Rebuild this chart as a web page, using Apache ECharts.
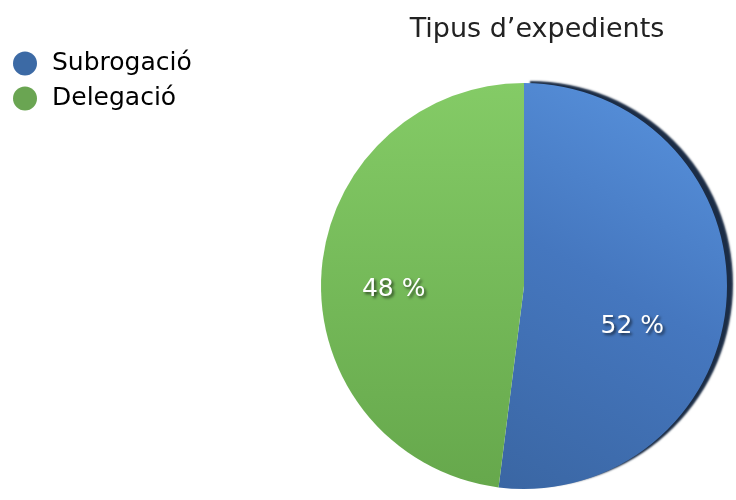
<!DOCTYPE html>
<html>
<head>
<meta charset="utf-8">
<script src="https://cdn.jsdelivr.net/npm/echarts@6/dist/echarts.min.js"></script>
<style>
  html, body { margin: 0; padding: 0; background: #fff; }
  #chart { width: 736px; height: 500px; }
</style>
</head>
<body>
<div id="chart"></div>
<script>
// dades
var categories = ['Subrogació', 'Delegació']
var values = [52, 48]
var titleText = 'Tipus d\u2019expedients'

var chart = echarts.init(document.getElementById('chart'))

// degradats per a cada porció
var sliceColors = [
  new echarts.graphic.LinearGradient(1, 0, 0, 1, [
    { offset: 0, color: '#5a95e0' },
    { offset: 0.5, color: '#4577bf' },
    { offset: 1, color: '#3a66a3' }
  ]),
  new echarts.graphic.LinearGradient(0, 0, 0, 1, [
    { offset: 0, color: '#84cb66' },
    { offset: 1, color: '#66a84c' }
  ])
]
var legendColors = ['#3c6aa5', '#6aa552']

// desplaçament de les etiquetes
var labelShift = [
  { dx: 4, dy: 34 },
  { dx: -26, dy: 10 }
]

var option = {
  title: {
    text: titleText,
    left: 532,
    top: 11,
    textAlign: 'center',
    textStyle: {
      fontFamily: 'DejaVu Sans',
      fontWeight: 'normal',
      fontSize: 27,
      color: '#222'
    }
  },
  legend: {
    orient: 'vertical',
    left: 8,
    top: 46,
    icon: 'circle',
    itemWidth: 24,
    itemHeight: 24,
    itemGap: 10,
    itemStyle: { borderWidth: 0, shadowBlur: 0, shadowOffsetX: 0, shadowOffsetY: 0 },
    textStyle: {
      fontFamily: 'DejaVu Sans',
      fontSize: 25,
      color: '#000',
      padding: [0, 0, 0, 10]
    },
    data: categories.map(function (name, i) {
      return { name: name, itemStyle: { color: legendColors[i] } }
    })
  },
  series: [
    {
      type: 'pie',
      center: [524, 286],
      radius: 203,
      startAngle: 90,
      clockwise: true,
      animation: false,
      silent: true,
      label: {
        show: true,
        position: 'inside',
        formatter: '{c} %',
        fontFamily: 'DejaVu Sans',
        fontSize: 25,
        color: '#fff',
        textShadowColor: 'rgba(0,0,0,0.6)',
        textShadowBlur: 3,
        textShadowOffsetX: 2,
        textShadowOffsetY: 2
      },
      labelLine: { show: false },
      labelLayout: function (params) {
        return labelShift[params.dataIndex]
      },
      data: categories.map(function (name, i) {
        var item = {
          name: name,
          value: values[i],
          itemStyle: {
            color: sliceColors[i],
            borderWidth: 0
          }
        }
        if (i === 0) {
          item.itemStyle.shadowColor = '#1b2c45'
          item.itemStyle.shadowOffsetX = 6
          item.itemStyle.shadowOffsetY = -2
          item.itemStyle.shadowBlur = 2
        }
        return item
      })
    }
  ]
}

chart.setOption(option)
</script>
</body>
</html>
